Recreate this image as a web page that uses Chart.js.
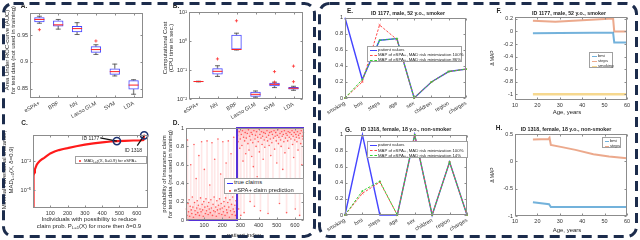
<!DOCTYPE html>
<html><head><meta charset="utf-8">
<script src="https://cdn.jsdelivr.net/npm/chart.js@4.4.1/dist/chart.umd.min.js"></script>
<style>
html,body{margin:0;padding:0;}
body{width:640px;height:240px;position:relative;overflow:hidden;background:#fff;font-family:"Liberation Sans",Arial,Helvetica,sans-serif;}
.t{position:absolute;white-space:nowrap;color:#262626;line-height:1;}
.lg{position:absolute;background:#fff;border:0.7px solid #a0a0a0;box-sizing:border-box;}
sub{font-size:70%;vertical-align:-0.25em;line-height:0;}
</style></head><body>
<svg width="640" height="240" style="position:absolute;left:0;top:0;z-index:5;pointer-events:none">
 <rect x="3.5" y="3.5" width="311" height="233" rx="10" fill="none" stroke="#1c2c4c" stroke-width="3" stroke-dasharray="10 6"/>
 <rect x="319.5" y="3.5" width="317" height="233" rx="10" fill="none" stroke="#1c2c4c" stroke-width="3" stroke-dasharray="10 6"/>
</svg>
<script>
// ================= DATA =================
// Panel A: AUC box plots
const aCats = ['eSPA+','BRF','NN','Lasso GLM','SVM','LDA'];
const aQ1  = [0.974,0.966,0.955,0.917,0.876,0.849];
const aMed = [0.979,0.969,0.962,0.923,0.882,0.857];
const aQ3  = [0.983,0.977,0.967,0.929,0.888,0.866];
const aLo  = [0.972,0.961,0.951,0.914,0.874,0.840];
const aHi  = [0.985,0.979,0.973,0.932,0.896,0.867];
const aOutCat = ['eSPA+','Lasso GLM'];
const aOutVal = [0.960,0.939];
const aTicks = [0.85,0.9,0.95];

// Panel B: computational cost box plots (log)
const bCats = ['eSPA+','NN','BRF','Lasso GLM','SVM','LDA'];
const bQ1  = [0.039,0.070,0.51,0.012,0.0275,0.0212];
const bMed = [0.040,0.090,0.51,0.0145,0.032,0.0235];
const bQ3  = [0.041,0.114,1.63,0.0177,0.0365,0.026];
const bLo  = [0.039,0.060,0.49,0.0115,0.0247,0.020];
const bHi  = [0.041,0.140,1.86,0.0189,0.038,0.0275];
const bOutCat = ['NN','BRF','SVM','SVM','LDA','LDA'];
const bOutVal = [0.241,4.98,0.038,0.088,0.0395,0.136];
const bTicks = [0.01,0.1,1,10];
const bTickLabels = ['10⁻²','10⁻¹','10⁰','10¹'];

// Panel C: minimal adversarial distance curve
const cIdx = [1,2,4,7,11,16,22,30,40,52,65,80,100,125,150,175,200,250,300,350,400,450,485,530,580,620,638,643,648];
const cMad = [1e-8,2e-4,3.2e-4,7.1e-4,1.4e-3,2.5e-3,4.5e-3,7.1e-3,0.011,0.016,0.022,0.035,0.063,0.1,0.14,0.18,0.22,0.35,0.5,0.68,0.87,1.07,1.17,1.26,1.35,1.41,1.5,4.6,4.8];
const cHiIdx = [485,643];
const cHiMad = [1.17,4.6];
const cHiLabels = ['ID 1177','ID 1318'];
const cAnnIdx = [389,603];
const cAnnMad = [2.5,0.4];
const cTicksX = [100,200,300,400,500,600];
const cTicksY = [1e-5,1e-2];
const cTickLabelsY = ['10⁻⁵','10⁻²'];

// Panel D: predictions vs true claims
const dIdx0 = [2,5,8,11,14,17,20,23,26,29,
 32,35,38,41,44,47,50,53,56,59,
 62,65,68,71,74,77,80,83,86,89,
 92,95,98,101,104,107,110,113,116,119,
 122,125,128,131,134,137,140,143,146,149,
 152,155,158,161,164,167,170,173,176,179,
 182,185,188,191,194,197,200,203,206,209,
 212,215,218,221,224,227,230,233,236,239,
 242,245,248,251,254,257,260,263,266,269,
 272,275,278];
const dPred0 = [0.12,0.05,0.87,0.18,0.09,0.22,0.04,0.15,0.60,0.11,
 0.07,0.25,0.14,0.03,0.82,0.19,0.10,0.06,0.45,0.13,
 0.21,0.08,0.16,0.70,0.05,0.12,0.24,0.09,0.85,0.17,
 0.11,0.04,0.20,0.55,0.14,0.07,0.23,0.10,0.86,0.15,
 0.06,0.19,0.12,0.38,0.08,0.22,0.13,0.84,0.05,0.17,
 0.10,0.25,0.66,0.09,0.14,0.04,0.21,0.11,0.88,0.16,
 0.07,0.23,0.12,0.50,0.18,0.06,0.13,0.85,0.09,0.20,
 0.15,0.05,0.24,0.62,0.11,0.08,0.19,0.86,0.14,0.03,
 0.22,0.10,0.72,0.17,0.06,0.25,0.12,0.90,0.09,0.16,
 0.05,0.21,0.13];
const dIdx1 = [284,287,290,293,296,299,302,305,308,311,
 314,317,320,323,326,329,332,335,338,341,
 344,347,350,353,356,359,362,365,368,371,
 374,377,380,383,386,389,392,395,398,401,
 404,407,410,413,416,419,422,425,428,431,
 434,437,440,443,446,449,452,455,458,461,
 464,467,470,473,476,479,482,485,488,491,
 494,497,500,503,506,509,512,515,518,521,
 524,527,530,533,536,539,542,545,548,551,
 554,557,560,563,566,569,572,575,578,581,
 584,587,590,593,596,599,602,605,608,611,
 614,617,620,623,626,629,632,635,638,641,
 644,647];
const dPred1 = [0.92,0.85,0.12,0.96,0.78,0.88,0.05,0.93,0.81,0.97,
 0.64,0.90,0.08,0.86,0.95,0.72,0.89,0.35,0.94,0.83,
 0.98,0.76,0.91,0.20,0.87,0.95,0.69,0.93,0.84,0.58,
 0.97,0.15,0.88,0.92,0.80,0.96,0.47,0.90,0.85,0.99,
 0.74,0.93,0.10,0.89,0.96,0.82,0.91,0.66,0.95,0.87,
 0.79,0.94,0.40,0.90,0.97,0.86,0.07,0.92,0.81,0.95,
 0.88,0.70,0.96,0.84,0.93,0.30,0.89,0.97,0.77,0.91,
 0.95,0.86,0.62,0.92,0.98,0.83,0.90,0.18,0.94,0.87,
 0.80,0.96,0.91,0.55,0.93,0.85,0.97,0.73,0.89,0.94,
 0.08,0.92,0.86,0.96,0.78,0.90,0.95,0.42,0.88,0.93,
 0.97,0.82,0.91,0.68,0.95,0.87,0.12,0.93,0.90,0.85,
 0.96,0.76,0.92,0.89,0.05,0.94,0.83,0.97,0.60,0.91,
 0.88,0.95];
const dTrueIdx = [1,281,281,650];
const dTrueVal = [0,0,1,1];
const dTicksX = [100,200,300,400,500,600];
const dTicksY = [0,0.2,0.4,0.6,0.8,1];

// Panels E, G: feature profiles
const eCats = ['smoking','bmi','steps','age','sex','children','region','charges'];
const ePatient = [1,0.23,0.72,0.74,0,0.2,0.33,0.36];
const eMap100  = [0,0.20,0.91,0.73,0,0.2,0.33,0.36];
const eMap86   = [0,0.23,0.72,0.74,0,0.2,0.33,0.36];
const gPatient = [0,1,0,0,1,0,0.66,0];
const gMap100  = [0,0.27,0.41,0,1,0,0.66,0];
const gMap14   = [0,0.30,0.42,0,1,0,0.66,0];
const eTicksY = [0,0.2,0.4,0.6,0.8,1];

// Panels F, H: delta MAP vs age
const fAgeBmi = [18,30,45,53.8,54.3,60];
const fBmi    = [-0.027,-0.025,-0.022,-0.02,-0.175,-0.175];
const fAgeSteps = [18,28,40,53.8,54.3,60];
const fSteps    = [0.17,0.155,0.18,0.205,0,0];
const fAgeSmoking = [18,60];
const fSmoking    = [-1,-1];
const fTicksX = [10,20,30,40,50,60];
const fTicksY = [-1,-0.8,-0.6,-0.4,-0.2,0,0.2];
const hAgeBmi = [18,25.2,26,60];
const hBmi    = [-0.75,-0.785,-0.835,-0.835];
const hAgeSteps = [18,25,25.4,26,31,37,45,52,60];
const hSteps    = [0.40,0.41,0.43,0.30,0.26,0.21,0.13,0.09,0.055];
const hTicksY = [-1,-0.5,0,0.5];

// ================= SETUP =================
Chart.defaults.font.family = '"Liberation Sans", Arial, sans-serif';
Chart.defaults.font.size = 5.5;
Chart.defaults.color = '#333';
Chart.defaults.animation = false;
Chart.defaults.responsive = false;
Chart.defaults.plugins.legend.display = false;
Chart.defaults.plugins.tooltip.enabled = false;
Chart.defaults.elements.point.radius = 0;
Chart.defaults.elements.line.tension = 0;

const mbox = {
  id:'mbox',
  afterDatasetsDraw(chart){
    const {ctx, chartArea:a} = chart;
    ctx.save();
    ctx.strokeStyle = '#8c8c8c'; ctx.lineWidth = 1;
    const L = Math.round(a.left)+0.5, T = Math.round(a.top)+0.5, R = Math.round(a.right)-0.5, B = Math.round(a.bottom)-0.5;
    ctx.strokeRect(L, T, R-L, B-T);
    ctx.beginPath();
    const sx = chart.scales.x, sy = chart.scales.y;
    sx.ticks.forEach((t,i)=>{ const p = Math.round(sx.getPixelForTick(i))+0.5; ctx.moveTo(p,B); ctx.lineTo(p,B-2); ctx.moveTo(p,T); ctx.lineTo(p,T+2); });
    sy.ticks.forEach((t,i)=>{ const p = Math.round(sy.getPixelForTick(i))+0.5; ctx.moveTo(L,p); ctx.lineTo(L+2,p); ctx.moveTo(R,p); ctx.lineTo(R-2,p); });
    ctx.stroke();
    ctx.restore();
  }
};
Chart.register(mbox);

function fixTicks(list){ return s => { s.ticks = list.map(v => ({value:v})); }; }
function axis(o){
  const t = Object.assign({padding:2, autoSkip:false, maxRotation:0, minRotation:0}, o.ticks||{});
  return Object.assign({grid:{display:false, drawTicks:false}, border:{display:false}}, o, {ticks:t});
}
function panel(L,T,R,B,pl,pt,pr,pb,cfg){
  const cv = document.createElement('canvas');
  const w = R-L+pl+pr, h = B-T+pt+pb;
  cv.width = w; cv.height = h;
  cv.style.cssText = `position:absolute;left:${L-pl}px;top:${T-pt}px;width:${w}px;height:${h}px`;
  document.body.appendChild(cv);
  cfg.options.layout = {padding:{left:0, top:pt, right:pr, bottom:0}};
  cfg.options.scales.x.afterFit = s => { s.height = pb; s.paddingLeft = s.paddingRight = s.paddingTop = s.paddingBottom = 0; };
  cfg.options.scales.y.afterFit = s => { s.width = pl; s.paddingLeft = s.paddingRight = s.paddingTop = s.paddingBottom = 0; };
  const ch = new Chart(cv, cfg);
  return {ch, ox:L-pl, oy:T-pt};
}
function lab(html, x, y, o={}){
  const d = document.createElement('div');
  d.className = 't';
  d.innerHTML = html;
  d.style.fontSize = (o.size||6)+'px';
  if (o.bold) d.style.fontWeight = 'bold';
  const ax = o.align==='left' ? '0' : o.align==='right' ? '-100%' : '-50%';
  d.style.left = x+'px'; d.style.top = y+'px';
  d.style.transform = `translate(${ax},-50%)` + (o.rot ? ` rotate(${o.rot}deg)` : '');
  document.body.appendChild(d);
}
function legend(x,y,w,h,items,fs,sw){
  const d = document.createElement('div'); d.className = 'lg';
  d.style.left = x+'px'; d.style.top = y+'px'; d.style.width = w+'px'; d.style.height = h+'px';
  const rowH = (h-1)/items.length;
  items.forEach((it,i)=>{
    const cy = 0.5 + rowH*(i+0.5);
    if (it.line){
      const s = document.createElement('div');
      s.style.cssText = `position:absolute;left:1.5px;top:${cy-0.5}px;width:${sw}px;height:0;border-top:${it.w||1}px ${it.dash?'dashed':'solid'} ${it.color}`;
      d.appendChild(s);
    }
    if (it.dot){
      const s = document.createElement('div');
      s.style.cssText = `position:absolute;left:${1.5+sw/2-1}px;top:${cy-1}px;width:2px;height:2px;border-radius:1px;background:${it.color}`;
      d.appendChild(s);
    }
    const t = document.createElement('div'); t.className = 't'; t.innerHTML = it.label;
    t.style.left = (sw+3)+'px'; t.style.top = cy+'px'; t.style.fontSize = fs+'px'; t.style.transform = 'translateY(-50%)';
    d.appendChild(t);
  });
  document.body.appendChild(d);
}
function boxSets(cats,q1,med,q3,lo,hi,oc,ov){
  return [
    {type:'line', data:cats.map((c,i)=>({x:c,y:med[i]})), showLine:false, pointStyle:'line', pointRadius:5, pointBorderColor:'#ff2020', pointBorderWidth:1, clip:false},
    {type:'line', data:oc.map((c,i)=>({x:c,y:ov[i]})), showLine:false, pointStyle:'cross', pointRadius:1.6, pointBorderColor:'#ff3030', pointBorderWidth:0.8, clip:false},
    {type:'line', data:cats.flatMap((c,i)=>[{x:c,y:lo[i]},{x:c,y:hi[i]}]), showLine:false, pointStyle:'line', pointRadius:2.5, pointBorderColor:'#444', pointBorderWidth:0.8},
    {type:'bar', data:cats.map((c,i)=>[q1[i],q3[i]]), backgroundColor:'rgba(255,255,255,0)', borderColor:'#4646ff', borderWidth:1, borderSkipped:false, barPercentage:0.55, categoryPercentage:1, grouped:false},
    {type:'bar', data:cats.map((c,i)=>[lo[i],q1[i]]), backgroundColor:'#888', barThickness:0.7, grouped:false},
    {type:'bar', data:cats.map((c,i)=>[q3[i],hi[i]]), backgroundColor:'#888', barThickness:0.7, grouped:false}
  ];
}
const xy = (xs,ys) => xs.map((x,i)=>({x, y:ys[i]}));

// ================= PANEL A =================
panel(30,11,145,98, 30,4,4,32, {
  type:'bar',
  data:{labels:aCats, datasets:boxSets(aCats,aQ1,aMed,aQ3,aLo,aHi,aOutCat,aOutVal)},
  options:{scales:{
    x:axis({ticks:{minRotation:30, maxRotation:30}}),
    y:axis({min:0.833, max:0.991, afterBuildTicks:fixTicks(aTicks), ticks:{callback:v=>String(v)}})
  }}
});
lab('A.', 24, 6, {bold:true, size:6.5});
lab('Area Under ROC-curve (AUC)', 6.5, 50, {rot:-90});
lab('for test data (not used in training)', 13, 50, {rot:-90});

// ================= PANEL B =================
panel(189,10,303,99, 28,4,6,32, {
  type:'bar',
  data:{labels:bCats, datasets:boxSets(bCats,bQ1,bMed,bQ3,bLo,bHi,bOutCat,bOutVal)},
  options:{scales:{
    x:axis({ticks:{minRotation:30, maxRotation:30}}),
    y:axis({type:'logarithmic', min:0.01, max:10, afterBuildTicks:fixTicks(bTicks), ticks:{callback:(v,i)=>bTickLabels[i]}})
  }}
});
lab('B.', 176, 6, {bold:true, size:6.5});
lab('Computational Cost', 164.5, 48, {rot:-90});
lab('(CPU time in sec.)', 170.5, 48, {rot:-90});

// ================= PANEL C =================
const pc = panel(33,133,148,208, 33,4,6,12, {
  type:'line',
  data:{datasets:[
    {data:xy(cHiIdx,cHiMad), showLine:false, pointRadius:3.6, pointBorderColor:'#1a2f6e', pointBorderWidth:1.6, pointBackgroundColor:'rgba(0,0,0,0)', clip:false},
    {data:[{x:cAnnIdx[0],y:cAnnMad[0]},{x:cHiIdx[0],y:cHiMad[0]}], borderColor:'#111', borderWidth:1.2, clip:false},
    {data:[{x:cAnnIdx[1],y:cAnnMad[1]},{x:cHiIdx[1],y:cHiMad[1]}], borderColor:'#111', borderWidth:1.2, clip:false},
    {data:xy(cIdx,cMad), borderColor:'#ff1a1a', borderWidth:2.2}
  ]},
  options:{scales:{
    x:axis({type:'linear', min:0, max:665, afterBuildTicks:fixTicks(cTicksX), ticks:{callback:v=>String(v)}}),
    y:axis({type:'logarithmic', min:1.5e-7, max:5.5, afterBuildTicks:fixTicks(cTicksY), ticks:{callback:(v,i)=>cTickLabelsY[i]}})
  }}
});
{
  const sx = pc.ch.scales.x, sy = pc.ch.scales.y;
  lab(cHiLabels[0], pc.ox+sx.getPixelForValue(cAnnIdx[0])-1, pc.oy+sy.getPixelForValue(cAnnMad[0]), {size:5, align:'right'});
  lab(cHiLabels[1], pc.ox+sx.getPixelForValue(cAnnIdx[1])-4, pc.oy+sy.getPixelForValue(cAnnMad[1])+4, {size:5});
}
legend(75,156,72,8,[{label:'MAD<sub>L=1</sub>(X, δ=0.9) for eSPA+', dot:true, color:'#ff2020'}],4.2,5);
lab('C.', 24.5, 122.5, {bold:true, size:6.5});
lab('Minimal Adversarial Distance,', 3.5, 170, {rot:-90});
lab('MAD<sub>L=1</sub>(X, δ=0.9)', 10.5, 170, {rot:-90});
lab('Individuals with possibility to reduce', 89, 218.5);
lab('claim prob. P<sub>L=1</sub>(X) for more then δ=0.9', 89, 226);

// ================= PANEL D =================
const dStems = [...dIdx0.map((x,i)=>({x, y:[0,dPred0[i]]})), ...dIdx1.map((x,i)=>({x, y:[dPred1[i],1]}))];
panel(186,128,304,220, 22,4,6,10, {
  type:'bar',
  data:{datasets:[
    {type:'line', data:xy(dTrueIdx,dTrueVal), borderColor:'#5530d8', borderWidth:2, clip:3},
    {type:'line', data:[...xy(dIdx0,dPred0), ...xy(dIdx1,dPred1)], showLine:false, pointRadius:0.8, pointBackgroundColor:'rgba(255,60,60,0.8)', pointBorderWidth:0, clip:3},
    {type:'bar', data:dStems, backgroundColor:'rgba(255,110,110,0.17)', barThickness:1}
  ]},
  options:{scales:{
    x:axis({type:'linear', offset:false, min:0, max:650, afterBuildTicks:fixTicks(dTicksX), ticks:{callback:v=>String(v)}}),
    y:axis({min:0, max:1, afterBuildTicks:fixTicks(dTicksY), ticks:{callback:v=>String(v)}})
  }}
});
legend(224,178,80,16,[{label:'true claims', line:true, color:'#3030ff'},{label:'eSPA+ claim prediction', dot:true, color:'#ff3a3a'}],5.8,6);
lab('D.', 176, 122.5, {bold:true, size:6.5});
lab('probability of insurance claim', 163.5, 174, {rot:-90});
lab('for test data (not used in training)', 169.5, 174, {rot:-90});
lab('patient index', 244, 234.5);

// ================= PANELS E, G =================
function profile(L,T,R,B,pat,m100,mX){
  return panel(L,T,R,B, 24,4,6,25, {
    type:'line',
    data:{labels:eCats, datasets:[
      {data:mX, borderColor:'#33d033', borderWidth:1, borderDash:[2.5,1.5], pointRadius:1.1, pointStyle:'rect', pointBackgroundColor:'#33d033', pointBorderWidth:0, clip:3, order:1},
      {data:m100, borderColor:'#ff4a4a', borderWidth:1, borderDash:[2.5,1.5], pointRadius:1.3, pointStyle:'crossRot', pointBorderColor:'#ff4a4a', pointBorderWidth:0.8, clip:3, order:2},
      {data:pat, borderColor:'#4545ff', borderWidth:1.4, clip:3, order:3}
    ]},
    options:{scales:{
      x:axis({offset:false, ticks:{minRotation:30, maxRotation:30}}),
      y:axis({min:0, max:1, afterBuildTicks:fixTicks(eTicksY), ticks:{callback:v=>String(v)}})
    }}
  });
}
profile(345,17,466,98, ePatient, eMap100, eMap86);
lab('E.', 350, 10.5, {bold:true, size:6.5});
lab('ID 1177, male, 52 y.o., smoker', 408, 14, {bold:true, size:5.3});
legend(367,46,95,16,[
  {label:'patient values', line:true, color:'#4545ff'},
  {label:'MAP of eSPA+, MAD risk minimization 100%', line:true, dash:true, color:'#ff4a4a'},
  {label:'MAP of eSPA+, MAD risk minimization 86%', line:true, dash:true, color:'#33d033'}],4.3,7);

profile(345,134,467,215, gPatient, gMap100, gMap14);
lab('G.', 348.5, 129.5, {bold:true, size:6.5});
lab('ID 1318, female, 18 y.o., non-smoker', 406, 130, {bold:true, size:5.3});
legend(367,141,101,17,[
  {label:'patient values', line:true, color:'#4545ff'},
  {label:'MAP of eSPA+, MAD risk minimization 100%', line:true, dash:true, color:'#ff4a4a'},
  {label:'MAP of eSPA+, MAD risk minimization 14%', line:true, dash:true, color:'#33d033'}],4.3,7);

// ================= PANELS F, H =================
const cBmi = 'rgba(0,114,189,0.55)', cSteps = 'rgba(217,83,25,0.5)', cSmoke = 'rgba(237,177,32,0.5)';
panel(515,17,627,100, 22,4,6,10, {
  type:'line',
  data:{datasets:[
    {data:xy(fAgeBmi,fBmi), borderColor:cBmi, borderWidth:2},
    {data:xy(fAgeSteps,fSteps), borderColor:cSteps, borderWidth:2},
    {data:xy(fAgeSmoking,fSmoking), borderColor:cSmoke, borderWidth:2.5}
  ]},
  options:{scales:{
    x:axis({type:'linear', min:10, max:60, afterBuildTicks:fixTicks(fTicksX), ticks:{callback:v=>String(v)}}),
    y:axis({min:-1.09, max:0.23, afterBuildTicks:fixTicks(fTicksY), ticks:{callback:v=>String(v)}})
  }}
});
lab('F.', 499, 10.5, {bold:true, size:6.5});
lab('ID 1177, male, 52 y.o., smoker', 569, 14, {bold:true, size:5.3});
lab('Δ MAP', 492, 58, {rot:-90, size:5});
lab('Age, years', 567, 111.5);
legend(589,52,24,16,[
  {label:'bmi', line:true, color:cBmi},
  {label:'steps', line:true, color:cSteps},
  {label:'smoking', line:true, color:cSmoke}],4.2,5);

panel(515,134,627,216, 22,4,6,10, {
  type:'line',
  data:{datasets:[
    {data:xy(hAgeBmi,hBmi), borderColor:cBmi, borderWidth:2},
    {data:xy(hAgeSteps,hSteps), borderColor:cSteps, borderWidth:2}
  ]},
  options:{scales:{
    x:axis({type:'linear', min:10, max:60, afterBuildTicks:fixTicks(fTicksX), ticks:{callback:v=>String(v)}}),
    y:axis({min:-1, max:0.5, afterBuildTicks:fixTicks(hTicksY), ticks:{callback:v=>String(v)}})
  }}
});
lab('H.', 499, 127.5, {bold:true, size:6.5});
lab('ID 1318, female, 18 y.o., non-smoker', 566, 130, {bold:true, size:5.3});
lab('Δ MAP', 492, 175, {rot:-90, size:5});
lab('Age, years', 567, 229.5);
legend(602,137,19,11,[
  {label:'bmi', line:true, color:cBmi},
  {label:'steps', line:true, color:cSteps}],4.2,4);
</script></body></html>
